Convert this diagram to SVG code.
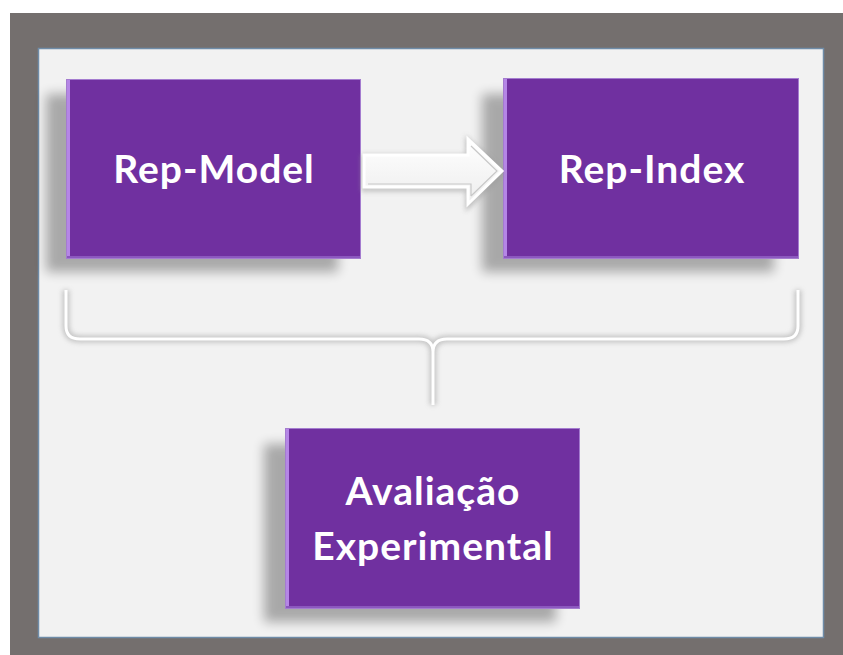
<svg xmlns="http://www.w3.org/2000/svg" width="843" height="655" viewBox="0 0 843 655">
  <style>
    .box { fill: #7030A0; stroke: #A47CCF; stroke-width: 1; }
    .label { font-family: Lato, "Open Sans", "Liberation Sans", sans-serif; font-weight: bold; font-size: 39px; letter-spacing: 1px; fill: #FFFFFF; text-anchor: middle; }
    .edgeL { fill: #B586E6; }
    .edgeB { fill: #8C58BF; }
    .shadow { fill: #000000; opacity: 0.3; filter: url(#soft); }
  </style>
  <defs>
    <filter id="soft" x="-20%" y="-20%" width="140%" height="140%">
      <feGaussianBlur stdDeviation="6"/>
    </filter>
    <filter id="halo" x="-10%" y="-30%" width="120%" height="160%">
      <feGaussianBlur stdDeviation="2.5"/>
    </filter>
    <linearGradient id="arrowFill" x1="0" y1="0" x2="0" y2="1">
      <stop offset="0" stop-color="#FFFFFF"/>
      <stop offset="1" stop-color="#EDEDED"/>
    </linearGradient>
  </defs>

  <!-- frame -->
  <rect x="10" y="13" width="833" height="642" fill="#746F6E"/>
  <rect x="38.5" y="48.5" width="785" height="589" fill="#F2F2F2" stroke="#6F8CA8" stroke-width="1.5"/>

  <!-- Rep-Model -->
  <g id="rep-model">
    <rect class="shadow" x="46" y="94" width="292" height="178"/>
    <rect class="box" x="66.5" y="79.5" width="294" height="179"/>
    <rect class="edgeL" x="67" y="80" width="3" height="178"/>
    <rect class="edgeB" x="67" y="256" width="293" height="2"/>
    <text class="label" x="214" y="183">Rep-Model</text>
  </g>

  <!-- Rep-Index -->
  <g id="rep-index">
    <rect class="shadow" x="482" y="94" width="292" height="178"/>
    <rect class="box" x="503.5" y="78.5" width="295" height="180"/>
    <rect class="edgeL" x="504" y="79" width="3" height="179"/>
    <rect class="edgeB" x="504" y="256" width="294" height="2"/>
    <text class="label" x="652" y="183">Rep-Index</text>
  </g>

  <!-- Avaliação Experimental -->
  <g id="avaliacao">
    <rect class="shadow" x="264" y="444" width="292" height="178"/>
    <rect class="box" x="285.5" y="428.5" width="294" height="180"/>
    <rect class="edgeL" x="286" y="429" width="3" height="179"/>
    <rect class="edgeB" x="286" y="606" width="293" height="2"/>
    <text class="label" x="433" y="505">Avaliação</text>
    <text class="label" x="433" y="560">Experimental</text>
  </g>

  <!-- connectors -->
  <g id="connectors">
    <!-- block arrow Rep-Model to Rep-Index -->
    <path d="M364,155 H468 V139 L502,171 L468,204 V187 H364 Z" fill="none" stroke="#9A9A9A" stroke-width="5" opacity="0.6" filter="url(#halo)" transform="translate(0,2)"/>
    <path d="M364,155 H468 V139 L502,171 L468,204 V187 H364 Z" fill="url(#arrowFill)" stroke="#FFFFFF" stroke-width="3" stroke-linejoin="miter"/>
    <path d="M368,184 H471 V196 M471,146 L497,171 L471,196" fill="none" stroke="#C8C8C8" stroke-width="1.2"/>

    <!-- brace grouping the two upper boxes -->
    <path d="M66,290 V326 Q66,339 80,339 H419 Q433,339 433,352 V405 M433,352 Q433,339 447,339 H784 Q798,339 798,326 V290" fill="none" stroke="#9E9E9E" stroke-width="7" opacity="0.55" filter="url(#halo)"/>
    <path d="M66,290 V326 Q66,339 80,339 H419 Q433,339 433,352 V405 M433,352 Q433,339 447,339 H784 Q798,339 798,326 V290" fill="none" stroke="#FFFFFF" stroke-width="3"/>
  </g>
</svg>
